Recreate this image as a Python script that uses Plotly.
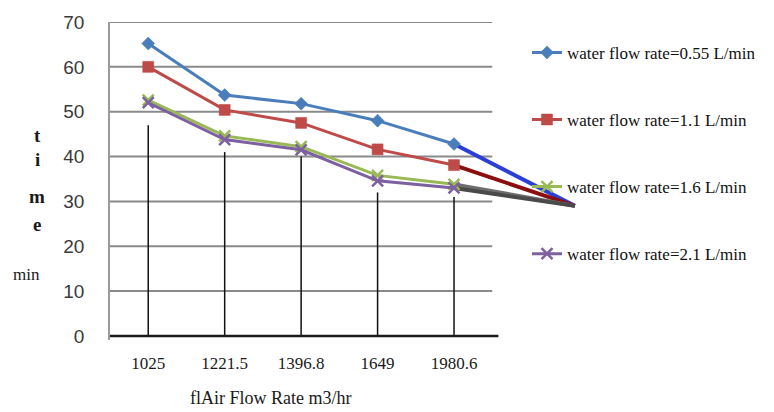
import plotly.graph_objects as go

# Air flow rate categories (m3/hr)
air_flow = ["1025", "1221.5", "1396.8", "1649", "1980.6"]

# Time (min) for each water flow rate
t_055 = [65.2, 53.7, 51.8, 48.0, 42.8]
t_11 = [60.0, 50.4, 47.5, 41.6, 38.1]
t_16 = [52.6, 44.6, 42.2, 35.8, 33.8]
t_21 = [52.0, 43.8, 41.5, 34.6, 33.0]

# Drop lines from the points down to the axis
drop_top = [47.0, 41.0, 40.0, 32.0, 31.0]

# Common end point the series are projected to
proj_x = 5.58
proj_y = 29.0

series = [
    ("water flow rate=0.55 L/min", t_055, "#4a7ebb", "diamond", 10, "#2b3ed6"),
    ("water flow rate=1.1 L/min", t_11, "#be4b48", "square", 11, "#8b0f0f"),
    ("water flow rate=1.6 L/min", t_16, "#98b954", "x-thin-open", 11, "#6e6e6e"),
    ("water flow rate=2.1 L/min", t_21, "#7d60a0", "x-thin-open", 11, "#4a4a4a"),
]

xpos = list(range(len(air_flow)))

# plot area geometry in pixels, used to place free text
PLOT_L, PLOT_T, PLOT_W, PLOT_H = 110, 18, 474, 322

fig = go.Figure()

# drop lines
dx, dy = [], []
for i, top in enumerate(drop_top):
    dx += [xpos[i], xpos[i], None]
    dy += [0, top, None]
fig.add_trace(go.Scatter(x=dx, y=dy, mode="lines",
                         line=dict(color="#111111", width=1.5),
                         showlegend=False, hoverinfo="skip"))

# horizontal axis line at zero, ending just past the last category
fig.add_trace(go.Scatter(x=[-0.5, 4.58], y=[0, 0], mode="lines",
                         line=dict(color="#1a1a1a", width=2.5),
                         showlegend=False, hoverinfo="skip"))

# projected tails towards the common end point
for name, vals, color, sym, size, tail in series:
    fig.add_trace(go.Scatter(x=[xpos[-1], proj_x], y=[vals[-1], proj_y],
                             mode="lines", line=dict(color=tail, width=4),
                             showlegend=False, hoverinfo="skip"))

for k, (name, vals, color, sym, size, tail) in enumerate(series):
    open_sym = sym.endswith("open")
    fig.add_trace(go.Scatter(
        x=xpos, y=vals, name=name, mode="lines+markers",
        legendgroup=str(k),
        line=dict(color=color, width=3),
        marker=dict(symbol=sym, size=size, color=color,
                    line=dict(color=color, width=2.5 if open_sym else 0.5)),
    ))

shapes = []
for g in range(10, 80, 10):
    shapes.append(dict(type="line", xref="x", yref="y", x0=-0.5, x1=4.5,
                       y0=g, y1=g, line=dict(color="#8a8a8a", width=2),
                       layer="below"))

serif = "Liberation Serif, Times New Roman, serif"


def px_x(px):
    return (px - PLOT_L) / PLOT_W


def px_y(py):
    return 1 - (py - PLOT_T) / PLOT_H


annotations = []
for txt, yy in [("t", 133), ("i", 157), ("m", 195), ("e", 223)]:
    annotations.append(dict(text="<b>" + txt + "</b>", xref="paper", yref="paper",
                            x=px_x(37), y=px_y(yy),
                            showarrow=False, xanchor="center", yanchor="middle",
                            font=dict(family=serif, size=19, color="#1a1a1a")))
annotations.append(dict(text="min", xref="paper", yref="paper",
                        x=px_x(26), y=px_y(274),
                        showarrow=False, xanchor="center", yanchor="middle",
                        font=dict(family=serif, size=17, color="#1a1a1a")))
annotations.append(dict(text="flAir Flow Rate m3/hr", xref="paper", yref="paper",
                        x=px_x(270), y=px_y(399),
                        showarrow=False, xanchor="center", yanchor="middle",
                        font=dict(family=serif, size=18, color="#1a1a1a")))

fig.update_layout(
    width=774, height=412,
    margin=dict(l=PLOT_L, r=774 - PLOT_L - PLOT_W, t=PLOT_T,
                b=412 - PLOT_T - PLOT_H),
    paper_bgcolor="white", plot_bgcolor="white",
    shapes=shapes, annotations=annotations,
    legend=dict(x=px_x(527), y=px_y(31),
                xanchor="left", yanchor="top",
                traceorder="grouped", tracegroupgap=42,
                bgcolor="rgba(0,0,0,0)",
                font=dict(family=serif, size=17, color="#111111")),
    xaxis=dict(range=[-0.5, 5.7], tickvals=xpos, ticktext=air_flow,
               showgrid=False, zeroline=False, showline=False, ticks="",
               ticklabelstandoff=11,
               tickfont=dict(family=serif, size=17, color="#1a1a1a")),
    yaxis=dict(range=[-0.9, 70], dtick=10, showgrid=False, zeroline=False,
               showline=True, linecolor="#9a9a9a", linewidth=1.5, ticks="",
               ticklabelstandoff=20,
               tickfont=dict(family="Liberation Sans, Arial, sans-serif",
                             size=19, color="#3a3a3a")),
)

fig.write_html("out.html")
